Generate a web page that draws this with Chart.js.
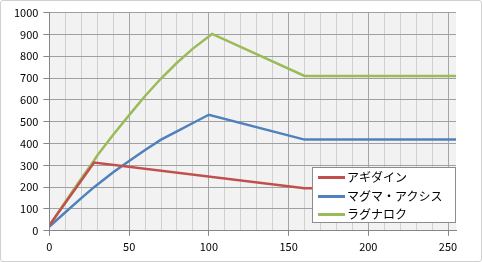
<!DOCTYPE html>
<html>
<head>
<meta charset="utf-8">
<script src="https://cdn.jsdelivr.net/npm/chart.js@4/dist/chart.umd.min.js"></script>
<style>
  body { margin: 0; background: #fff; }
  #wrap {
    position: relative;
    width: 480px; height: 260px;
    border: 1px solid #d0d0d0; border-radius: 3px;
    font-family: "Noto Sans CJK JP", sans-serif;
  }
  #legend {
    position: absolute; left: 311px; top: 166px;
    width: 144px; height: 56px; box-sizing: border-box;
    background: #fff; border: 1px solid #8c8c8c;
    font-size: 12px; color: #000;
  }
  #legend .row { position: relative; height: 18.5px; line-height: 18.5px; padding-left: 34px; white-space: nowrap; }
  #legend .sw { position: absolute; left: 5px; top: 8px; width: 27px; height: 3px; }
</style>
</head>
<body>
<div id="wrap">
  <canvas id="chart"></canvas>
  <div id="legend"></div>
</div>
<script>
// series names
const seriesNames = ['アギダイン', 'マグマ・アクシス', 'ラグナロク'];

// アギダイン
const agiLevels = [0, 28, 160, 255];
const agiValues = [25, 313, 195, 195];

// マグマ・アクシス
const magmaLevels = [0, 10, 20, 28, 40, 50, 60, 70, 80, 90, 100, 160, 255];
const magmaValues = [19, 85, 150, 200, 268, 320, 370, 418, 456, 494, 532, 418, 418];

// ラグナロク
const ragLevels = [0, 10, 20, 28, 30, 40, 50, 60, 70, 80, 90, 102, 160, 255];
const ragValues = [25, 133, 240, 322, 345, 440, 530, 618, 698, 770, 835, 902, 710, 710];

// axis ticks
const xTickLabels = [0, 50, 100, 150, 200, 250];
const yTickLabels = [0, 100, 200, 300, 400, 500, 600, 700, 800, 900, 1000];

const colors = ['#c0504d', '#4f81bd', '#9bbb59'];

function toPoints(xs, ys) {
    return xs.map((x, i) => ({ x: x, y: ys[i] }));
}

const seriesData = [
    toPoints(agiLevels, agiValues),
    toPoints(magmaLevels, magmaValues),
    toPoints(ragLevels, ragValues)
];

// plot area background
const plotBg = {
    id: 'plotBg',
    beforeDraw(chart) {
        const a = chart.chartArea;
        const c = chart.ctx;
        c.save();
        c.fillStyle = '#f2f2f2';
        c.fillRect(a.left, a.top, a.right - a.left, a.bottom - a.top);
        c.restore();
    }
};

Chart.defaults.font.family = '"Noto Sans CJK JP", "Noto Sans", sans-serif';
Chart.defaults.color = '#000';

const chart = new Chart(document.getElementById('chart'), {
    type: 'line',
    data: {
        datasets: seriesNames.map((name, i) => ({
            label: name,
            data: seriesData[i],
            borderColor: colors[i],
            backgroundColor: colors[i],
            borderWidth: 2.5,
            pointRadius: 0,
            tension: 0
        }))
    },
    options: {
        responsive: true,
        maintainAspectRatio: false,
        animation: false,
        layout: { padding: { left: 8, right: 25, top: 7, bottom: 4 } },
        plugins: {
            legend: { display: false },
            tooltip: { enabled: false }
        },
        scales: {
            x: {
                type: 'linear',
                min: 0,
                max: 255,
                border: { color: '#868686', width: 1 },
                grid: {
                    color: ctx => (ctx.tick && ctx.tick.value % 50 === 0) ? '#a6a6a6' : '#d0d0d0',
                    tickColor: ctx => (ctx.tick && ctx.tick.value % 50 === 0) ? '#868686' : 'rgba(0,0,0,0)',
                    tickLength: 5
                },
                ticks: {
                    stepSize: 10,
                    includeBounds: false,
                    autoSkip: false,
                    maxRotation: 0,
                    padding: 4,
                    font: { size: 11 },
                    callback: v => xTickLabels.includes(v) ? String(v) : ''
                }
            },
            y: {
                min: 0,
                max: 1000,
                border: { color: '#868686', width: 1 },
                grid: { color: '#a0a0a0', tickColor: '#868686', tickLength: 6 },
                ticks: {
                    stepSize: 100,
                    padding: 5,
                    font: { size: 11 },
                    callback: v => yTickLabels.includes(v) ? String(v) : ''
                }
            }
        }
    },
    plugins: [plotBg]
});

// legend box inside the plot, built from the datasets
const legendEl = document.getElementById('legend');
chart.data.datasets.forEach(ds => {
    const row = document.createElement('div');
    row.className = 'row';
    const sw = document.createElement('span');
    sw.className = 'sw';
    sw.style.background = ds.borderColor;
    row.appendChild(sw);
    row.appendChild(document.createTextNode(ds.label));
    legendEl.appendChild(row);
});
</script>
</body>
</html>
